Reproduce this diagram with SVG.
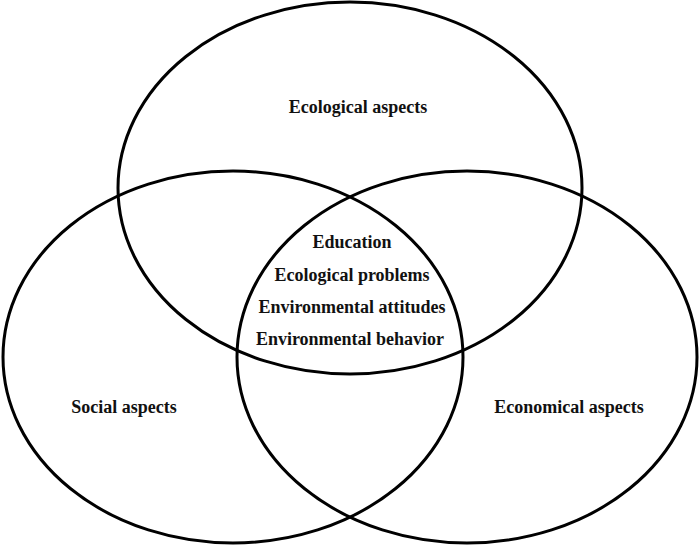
<svg xmlns="http://www.w3.org/2000/svg" width="700" height="548" viewBox="0 0 700 548">
<style>
.c{fill:none;stroke:#000;stroke-width:3}
text{font-family:"Liberation Serif","Times New Roman",serif;font-weight:bold;font-size:18px;fill:#111;text-anchor:middle}
</style>
<rect width="700" height="548" fill="#fff"/>
<g id="ecological">
<ellipse class="c" cx="350" cy="188" rx="232" ry="186"/>
<text x="358" y="113">Ecological aspects</text>
</g>
<g id="social">
<ellipse class="c" cx="233" cy="357" rx="230" ry="186"/>
<text x="124" y="413">Social aspects</text>
</g>
<g id="economical">
<ellipse class="c" cx="467" cy="357" rx="230" ry="186"/>
<text x="569" y="413">Economical aspects</text>
</g>
<g id="center">
<text x="352" y="248">Education</text>
<text x="352" y="281">Ecological problems</text>
<text x="352" y="313">Environmental attitudes</text>
<text x="350" y="345">Environmental behavior</text>
</g>
<g id="connectors"/>
</svg>
